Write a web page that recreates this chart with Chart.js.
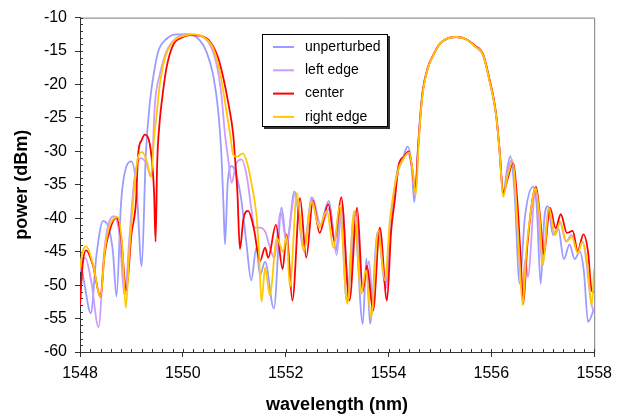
<!DOCTYPE html>
<html>
<head>
<meta charset="utf-8">
<script src="https://cdn.jsdelivr.net/npm/chart.js@4.4.1/dist/chart.umd.min.js"></script>
<style>
  html, body { margin: 0; padding: 0; background: #fff; }
  canvas { display: block; }
</style>
</head>
<body>
<canvas id="spectrum" width="619" height="419"></canvas>
<script>
// [wavelength nm, power dBm]
const unperturbed = [
  [1548.00,-46.0],[1548.08,-49.5],[1548.21,-54.2],[1548.32,-45.5],[1548.45,-40.4],[1548.56,-41.5],
  [1548.64,-45.0],[1548.71,-51.7],[1548.80,-37.5],[1548.90,-32.3],[1549.00,-31.5],[1549.10,-35.5],
  [1549.20,-47.2],[1549.28,-30.5],[1549.36,-22.6],[1549.43,-18.6],[1549.52,-15.1],[1549.68,-13.2],
  [1549.88,-12.5],[1550.14,-12.5],[1550.33,-13.4],[1550.46,-15.1],[1550.59,-18.6],[1550.69,-24.1],
  [1550.75,-30.5],[1550.79,-38.0],[1550.82,-43.9],[1550.87,-35.0],[1550.95,-32.2],[1551.04,-33.5],
  [1551.14,-37.4],[1551.24,-44.0],[1551.33,-49.3],[1551.43,-44.4],[1551.50,-48.5],[1551.60,-46.5],
  [1551.77,-53.5],[1551.92,-38.4],[1552.02,-43.9],[1552.17,-36.0],[1552.36,-44.9],[1552.50,-36.9],
  [1552.65,-41.4],[1552.84,-37.4],[1552.98,-44.9],[1553.06,-38.5],[1553.19,-52.5],[1553.33,-39.5],
  [1553.50,-55.8],[1553.57,-46.0],[1553.64,-55.8],[1553.79,-42.0],[1553.94,-50.0],[1554.05,-40.0],
  [1554.17,-33.0],[1554.28,-31.0],[1554.37,-29.3],[1554.45,-32.0],[1554.50,-37.6],[1554.58,-28.5],
  [1554.63,-23.5],[1554.67,-20.6],[1554.77,-17.3],[1554.87,-15.6],[1555.00,-13.9],[1555.15,-13.1],
  [1555.32,-12.9],[1555.50,-13.2],[1555.68,-14.3],[1555.84,-15.6],[1555.97,-19.6],[1556.05,-22.5],
  [1556.10,-25.1],[1556.16,-30.0],[1556.23,-36.5],[1556.30,-33.0],[1556.37,-30.7],[1556.45,-36.0],
  [1556.55,-49.8],[1556.65,-40.0],[1556.81,-35.3],[1556.88,-38.0],[1556.96,-49.8],[1557.03,-40.0],
  [1557.10,-38.2],[1557.20,-42.5],[1557.30,-41.5],[1557.41,-46.1],[1557.52,-43.9],[1557.62,-46.1],
  [1557.72,-45.0],[1557.80,-48.0],[1557.88,-55.5],[1558.00,-53.5]
];

const leftEdge = [
  [1548.00,-48.0],[1548.10,-45.9],[1548.22,-49.5],[1548.36,-56.3],[1548.47,-45.0],[1548.55,-41.0],
  [1548.66,-39.7],[1548.76,-42.0],[1548.87,-51.5],[1548.96,-43.0],[1549.06,-34.0],[1549.19,-31.0],
  [1549.30,-32.0],[1549.38,-33.8],[1549.46,-22.6],[1549.55,-18.6],[1549.68,-15.1],[1549.85,-13.2],
  [1550.07,-12.5],[1550.33,-12.7],[1550.53,-14.1],[1550.66,-17.1],[1550.75,-21.6],[1550.82,-27.5],
  [1550.88,-31.0],[1550.95,-34.7],[1551.03,-32.0],[1551.14,-31.2],[1551.25,-34.0],[1551.33,-38.5],
  [1551.40,-41.4],[1551.50,-41.4],[1551.60,-42.0],[1551.70,-44.5],[1551.78,-46.0],[1551.90,-39.0],
  [1552.02,-43.5],[1552.18,-36.5],[1552.35,-44.0],[1552.52,-36.9],[1552.68,-41.0],[1552.86,-38.5],
  [1552.99,-45.5],[1553.10,-38.0],[1553.22,-50.5],[1553.37,-39.5],[1553.50,-51.0],[1553.62,-46.4],
  [1553.70,-53.0],[1553.82,-42.0],[1553.95,-50.5],[1554.05,-40.5],[1554.17,-33.5],[1554.28,-31.2],
  [1554.38,-30.3],[1554.46,-33.0],[1554.52,-36.8],[1554.58,-28.5],[1554.63,-23.5],[1554.67,-20.7],
  [1554.77,-17.3],[1554.87,-15.6],[1555.00,-13.9],[1555.15,-13.1],[1555.32,-12.9],[1555.50,-13.2],
  [1555.68,-14.3],[1555.84,-15.7],[1555.97,-19.7],[1556.05,-22.6],[1556.10,-25.2],[1556.16,-30.2],
  [1556.23,-36.7],[1556.32,-33.0],[1556.40,-31.2],[1556.50,-40.0],[1556.60,-51.0],[1556.66,-46.0],
  [1556.71,-48.8],[1556.86,-35.5],[1557.00,-47.0],[1557.11,-38.5],[1557.24,-42.5],[1557.33,-40.5],
  [1557.45,-43.5],[1557.56,-42.5],[1557.67,-45.0],[1557.77,-43.5],[1557.95,-53.0],[1558.00,-54.0]
];

const center = [
  [1548.00,-53.0],[1548.05,-47.0],[1548.12,-44.8],[1548.25,-47.0],[1548.40,-51.8],[1548.47,-46.0],
  [1548.54,-42.9],[1548.71,-39.9],[1548.80,-43.0],[1548.90,-50.8],[1549.00,-42.4],[1549.09,-37.4],
  [1549.13,-30.5],[1549.20,-28.3],[1549.26,-27.5],[1549.34,-28.3],[1549.40,-31.5],[1549.44,-36.0],
  [1549.47,-43.5],[1549.50,-32.0],[1549.55,-25.5],[1549.59,-22.6],[1549.68,-17.6],[1549.81,-14.1],
  [1550.01,-12.9],[1550.14,-12.6],[1550.33,-12.7],[1550.53,-13.6],[1550.69,-16.1],[1550.79,-19.1],
  [1550.88,-22.6],[1550.98,-27.5],[1551.01,-30.5],[1551.06,-36.0],[1551.11,-44.6],[1551.18,-40.0],
  [1551.27,-38.9],[1551.38,-41.5],[1551.50,-46.4],[1551.60,-44.4],[1551.66,-45.9],[1551.81,-41.0],
  [1551.94,-47.6],[1552.02,-42.4],[1552.13,-52.3],[1552.28,-37.0],[1552.40,-45.9],[1552.53,-37.4],
  [1552.66,-42.2],[1552.83,-37.9],[1552.95,-43.4],[1553.08,-36.9],[1553.24,-52.3],[1553.39,-38.4],
  [1553.50,-50.8],[1553.58,-47.1],[1553.70,-53.8],[1553.83,-41.4],[1553.97,-52.3],[1554.05,-42.0],
  [1554.12,-37.4],[1554.20,-32.0],[1554.30,-30.8],[1554.39,-30.0],[1554.46,-32.5],[1554.52,-36.0],
  [1554.58,-29.0],[1554.63,-23.8],[1554.67,-20.8],[1554.77,-17.4],[1554.87,-15.6],[1555.00,-13.9],
  [1555.15,-13.1],[1555.32,-12.9],[1555.50,-13.2],[1555.68,-14.2],[1555.84,-15.5],[1555.97,-19.4],
  [1556.05,-22.3],[1556.10,-24.9],[1556.16,-29.8],[1556.23,-36.2],[1556.32,-34.0],[1556.42,-31.7],
  [1556.50,-37.0],[1556.57,-46.0],[1556.62,-52.8],[1556.70,-44.0],[1556.87,-35.3],[1556.95,-40.0],
  [1557.02,-45.4],[1557.14,-38.4],[1557.25,-41.5],[1557.35,-39.4],[1557.47,-42.2],[1557.58,-41.9],
  [1557.68,-44.9],[1557.79,-42.4],[1557.88,-45.0],[1557.95,-50.8],[1558.00,-51.0]
];

const rightEdge = [
  [1548.00,-47.5],[1548.05,-45.0],[1548.12,-44.2],[1548.25,-46.8],[1548.40,-51.8],[1548.48,-45.0],
  [1548.56,-41.5],[1548.73,-39.8],[1548.82,-44.0],[1548.89,-53.4],[1548.96,-45.0],[1549.05,-36.0],
  [1549.13,-30.8],[1549.21,-30.1],[1549.30,-31.5],[1549.38,-33.8],[1549.44,-28.0],[1549.49,-24.5],
  [1549.55,-20.1],[1549.65,-16.1],[1549.81,-13.6],[1550.04,-12.7],[1550.20,-12.5],[1550.40,-12.9],
  [1550.59,-14.6],[1550.72,-18.1],[1550.82,-22.6],[1550.92,-27.5],[1550.98,-30.5],[1551.05,-30.8],
  [1551.17,-30.3],[1551.26,-32.0],[1551.34,-35.0],[1551.43,-39.4],[1551.48,-44.9],[1551.53,-52.5],
  [1551.60,-47.4],[1551.69,-51.5],[1551.83,-43.0],[1551.95,-45.0],[1552.02,-42.6],[1552.08,-50.3],
  [1552.22,-36.2],[1552.35,-44.9],[1552.51,-37.4],[1552.65,-41.4],[1552.80,-38.9],[1552.93,-44.4],
  [1553.05,-38.2],[1553.20,-52.8],[1553.33,-38.9],[1553.47,-51.3],[1553.56,-47.8],[1553.66,-54.8],
  [1553.80,-41.9],[1553.93,-49.3],[1554.03,-40.0],[1554.18,-33.0],[1554.30,-31.0],[1554.40,-30.2],
  [1554.47,-33.0],[1554.53,-36.5],[1554.59,-28.2],[1554.64,-23.2],[1554.68,-20.5],[1554.78,-17.2],
  [1554.88,-15.5],[1555.00,-13.9],[1555.15,-13.1],[1555.32,-12.9],[1555.50,-13.2],[1555.68,-14.3],
  [1555.84,-15.6],[1555.97,-19.6],[1556.05,-22.5],[1556.10,-25.1],[1556.16,-30.0],[1556.23,-36.8],
  [1556.32,-33.5],[1556.42,-31.5],[1556.50,-40.0],[1556.56,-48.0],[1556.61,-53.0],[1556.68,-45.0],
  [1556.75,-40.0],[1556.86,-35.5],[1556.94,-40.0],[1557.00,-47.0],[1557.12,-38.5],[1557.24,-42.5],
  [1557.34,-40.5],[1557.46,-43.5],[1557.57,-42.8],[1557.68,-45.2],[1557.77,-43.5],[1557.87,-47.0],
  [1557.95,-53.0],[1558.00,-47.5]
];

const seriesNames = ['unperturbed', 'left edge', 'center', 'right edge'];
const seriesColors = ['#9c9cff', '#cc9cff', '#ff0000', '#ffc800'];
const xTicks = [1548, 1550, 1552, 1554, 1556, 1558];
const yTicks = [-60, -55, -50, -45, -40, -35, -30, -25, -20, -15, -10];

const toPoints = (pairs) => pairs.map(([x, y]) => ({ x, y }));

// frame, minor ticks and the boxed legend inside the plot
const plotDecor = {
  id: 'plotDecor',
  beforeDatasetsDraw(chart) {
    const { ctx, chartArea: a, scales } = chart;
    ctx.save();
    ctx.strokeStyle = '#7a7a7a';
    ctx.lineWidth = 1;
    ctx.beginPath();
    ctx.moveTo(a.left, a.top + 0.5);
    ctx.lineTo(a.right + 0.5, a.top + 0.5);
    ctx.lineTo(a.right + 0.5, a.bottom);
    ctx.stroke();

    ctx.strokeStyle = '#333';
    ctx.beginPath();
    for (let v = xTicks[0]; v <= xTicks[xTicks.length - 1] + 1e-6; v += 0.2) {
      const px = Math.round(scales.x.getPixelForValue(v)) + 0.5;
      ctx.moveTo(px, a.bottom);
      ctx.lineTo(px, a.bottom - 3);
    }
    for (let v = yTicks[0]; v <= yTicks[yTicks.length - 1] + 1e-6; v += 1) {
      const py = Math.round(scales.y.getPixelForValue(v)) + 0.5;
      ctx.moveTo(a.left, py);
      ctx.lineTo(a.left + 3, py);
    }
    ctx.stroke();
    ctx.restore();
  },
  afterDraw(chart) {
    const ctx = chart.ctx;
    const bx = 262, by = 34, bw = 126, bh = 93;
    ctx.save();
    ctx.fillStyle = '#333';
    ctx.fillRect(bx + 2, by + 2, bw, bh);
    ctx.fillStyle = '#fff';
    ctx.fillRect(bx, by, bw, bh);
    ctx.strokeStyle = '#000';
    ctx.lineWidth = 1;
    ctx.strokeRect(bx + 0.5, by + 0.5, bw - 1, bh - 1);

    ctx.font = '14px Arial, "Liberation Sans", sans-serif';
    ctx.textBaseline = 'middle';
    seriesNames.forEach((name, i) => {
      const y = by + 13 + i * 23.3;
      ctx.strokeStyle = seriesColors[i];
      ctx.lineWidth = 2;
      ctx.beginPath();
      ctx.moveTo(bx + 11, y);
      ctx.lineTo(bx + 32, y);
      ctx.stroke();
      ctx.fillStyle = '#000';
      ctx.fillText(name, bx + 43, y);
    });
    ctx.restore();
  }
};

const datasets = [unperturbed, leftEdge, center, rightEdge].map((pairs, i) => ({
  label: seriesNames[i],
  data: toPoints(pairs),
  borderColor: seriesColors[i],
  borderWidth: 1.8,
  pointRadius: 0,
  cubicInterpolationMode: 'monotone',
  order: 3 - i
}));

const tickFont = { family: 'Arial, "Liberation Sans", sans-serif', size: 16 };
const titleFont = { family: 'Arial, "Liberation Sans", sans-serif', size: 18, weight: 'bold' };

new Chart(document.getElementById('spectrum'), {
  type: 'line',
  data: { datasets },
  plugins: [plotDecor],
  options: {
    responsive: false,
    animation: false,
    devicePixelRatio: 1,
    layout: { padding: { top: 15.5, right: 22, left: 0, bottom: 0 } },
    plugins: {
      legend: { display: false },
      tooltip: { enabled: false }
    },
    scales: {
      x: {
        type: 'linear',
        min: xTicks[0],
        max: xTicks[xTicks.length - 1],
        afterBuildTicks: (scale) => { scale.ticks = xTicks.map(v => ({ value: v })); },
        ticks: { font: tickFont, color: '#000', padding: 7, maxRotation: 0, callback: (v) => String(v) },
        grid: { drawOnChartArea: false, tickLength: 5, color: '#333' },
        border: { color: '#333', width: 1 },
        title: { display: true, text: 'wavelength (nm)', font: titleFont, color: '#000', padding: { top: 0, bottom: 3 } },
        afterFit: (scale) => { scale.height = 67; }
      },
      y: {
        type: 'linear',
        min: yTicks[0],
        max: yTicks[yTicks.length - 1],
        afterBuildTicks: (scale) => { scale.ticks = yTicks.map(v => ({ value: v })); },
        ticks: { font: tickFont, color: '#000', padding: 8, callback: (v) => String(v) },
        grid: { drawOnChartArea: false, tickLength: 5, color: '#333' },
        border: { color: '#333', width: 1 },
        title: { display: true, text: 'power (dBm)', font: titleFont, color: '#000', padding: { top: 11, bottom: 0 } },
        afterFit: (scale) => { scale.width = 80; }
      }
    }
  }
});
</script>
</body>
</html>
